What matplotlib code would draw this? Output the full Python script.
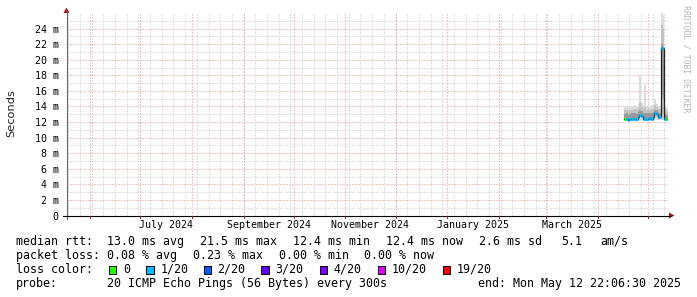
"""
Smokeping 360-day latency graph (RRDtool look) rebuilt with matplotlib.
"""
import numpy as np
import pandas as pd
import matplotlib
matplotlib.use('Agg')
import matplotlib.pyplot as plt
from matplotlib.patches import Polygon, Rectangle
from matplotlib.lines import Line2D

W, H = 697, 297
MONO = 'DejaVu Sans Mono'

END = pd.Timestamp('2025-05-12 22:06:30')
START = END - pd.Timedelta(days=360)

# daily consolidated values, Apr 17 .. May 12 2025 (ms)
days = pd.date_range('2025-04-17', '2025-05-12', freq='D')
median_ms = [12.4, 12.4, 12.3, 12.4, 12.4, 12.5, 12.4, 12.4, 12.6, 12.9, 12.8, 12.4, 12.4,
             12.4, 12.4, 12.5, 12.4, 12.6, 13.1, 13.0, 12.7, 12.6, 21.5, 21.5, 12.4, 12.4]
loss_bin  = [0, 1, 1, 1, 1, 1, 1, 1, 1, 1, 1, 1, 1,
             1, 1, 1, 1, 1, 1, 1, 1, 1, 1, 1, 1, 0]
smoke_min = [12.1, 12.1, 12.0, 12.1, 12.1, 12.1, 12.1, 12.1, 12.2, 12.2, 12.2, 12.1, 12.1,
             12.1, 12.1, 12.1, 12.1, 12.2, 12.3, 12.3, 12.2, 12.2, 12.3, 12.3, 12.1, 12.1]
smoke_p10 = [12.2, 12.2, 12.2, 12.2, 12.2, 12.3, 12.2, 12.2, 12.4, 12.6, 12.5, 12.2, 12.2,
             12.2, 12.2, 12.3, 12.2, 12.4, 12.8, 12.7, 12.4, 12.4, 13.0, 13.0, 12.2, 12.2]
smoke_p25 = [12.3, 12.3, 12.2, 12.3, 12.3, 12.4, 12.3, 12.3, 12.5, 12.8, 12.7, 12.3, 12.3,
             12.3, 12.3, 12.4, 12.3, 12.5, 13.0, 12.9, 12.6, 12.5, 15.5, 15.0, 12.3, 12.3]
smoke_p75 = [13.0, 13.1, 12.9, 13.0, 13.1, 13.1, 13.2, 13.0, 13.3, 13.6, 13.4, 13.2, 13.2,
             13.1, 13.2, 13.1, 13.2, 13.3, 13.6, 13.5, 13.3, 13.2, 22.0, 21.5, 13.0, 12.9]
smoke_p90 = [13.5, 13.6, 13.4, 13.5, 13.6, 13.6, 13.7, 13.5, 13.8, 14.4, 13.9, 13.7, 13.9,
             13.6, 13.8, 13.6, 13.7, 13.7, 14.2, 13.9, 13.7, 13.7, 24.5, 24.0, 13.5, 13.4]
smoke_max = [13.9, 14.0, 13.8, 14.0, 14.1, 14.0, 14.2, 14.0, 14.3, 18.1, 14.4, 14.2, 16.7,
             14.1, 14.5, 14.0, 14.2, 14.1, 15.0, 14.3, 14.0, 14.1, 26.0, 25.8, 14.0, 13.8]

loss_labels = ['0', '1/20', '2/20', '3/20', '4/20', '10/20', '19/20']
loss_colors = ['#26ff00', '#00b8ff', '#0059ff', '#5e00ff', '#7e00ff', '#dd00ff', '#ff0000']

y_ticks = [0, 2, 4, 6, 8, 10, 12, 14, 16, 18, 20, 22, 24]
month_labels = ['July 2024', 'September 2024', 'November 2024', 'January 2025', 'March 2025']

legend_rows = [
    (245, [(16, 'median rtt:'), (107, '13.0 ms avg'), (200, '21.5 ms max'), (293, '12.4 ms min'),
           (386, '12.4 ms now'), (479, '2.6 ms sd'), (561, '5.1'), (600, 'am/s')]),
    (259, [(16, 'packet loss:'), (107, '0.08 % avg'), (193, '0.23 % max'), (279, '0.00 % min'),
           (364, '0.00 % now')]),
    (287, [(16, 'probe:'), (107, '20 ICMP Echo Pings (56 Bytes) every 300s'),
           (478, 'end: Mon May 12 22:06:30 2025')]),
]
box_x = [108.5, 146, 203.5, 261, 319.5, 377.5, 442.5]
lab_x = [123, 160.5, 217.5, 275.5, 333.5, 391.5, 456.5]


def fx(x): return x / W
def fy(y): return 1 - y / H


fig = plt.figure(figsize=(W / 100, H / 100), dpi=100)
fig.patch.set_facecolor('white')
ax_l, ax_r, ax_t, ax_b = 66.5, 667.5, 13, 215.5
ax = fig.add_axes([fx(ax_l), fy(ax_b), (ax_r - ax_l) / W, (ax_b - ax_t) / H])
ax.set_xlim(START, END)
ax.set_ylim(0, 26.0)
for s in ax.spines.values():
    s.set_visible(False)

grid_kw = dict(lw=0.72, ls=(0, (1, 2)), dash_capstyle='butt')
# grid: weekly (sunday) minor, monthly major, 1 ms minor / 2 ms major
for d in pd.date_range(START.normalize(), END, freq='W-SUN'):
    ax.axvline(d, color='#c4c4c4', zorder=1, **grid_kw)
for v in range(1, 26):
    ax.axhline(v, color='#eb8c8c' if v % 2 == 0 else '#c4c4c4', zorder=1, **grid_kw)
month_starts = pd.date_range(START.normalize(), END, freq='MS')
for d in month_starts:
    ax.axvline(d, color='#eb8c8c', zorder=1.5, **grid_kw)

# smoke
edges = list(days) + [END]
def ext(a): return list(a) + [a[-1]]
ax.fill_between(edges, ext(smoke_min), ext(smoke_max), step='post', color='#dcdcdc', lw=0, zorder=2)
ax.fill_between(edges, ext(smoke_p10), ext(smoke_p90), step='post', color='#c2c2c2', lw=0, zorder=2)
ax.fill_between(edges, ext(smoke_p25), ext(smoke_p75), step='post', color='#9a9a9a', lw=0, zorder=2)

# median: thin dark step line + loss-coloured segments
ax.step(edges, ext(median_ms), where='post', color='#202020', lw=0.9, zorder=3)
ax.hlines(median_ms, edges[:-1], edges[1:], colors=[loss_colors[i] for i in loss_bin],
          lw=2.2, zorder=4)

# ticks
ax.set_yticks(y_ticks, [('%d m' % v) if v else '0' for v in y_ticks])
mids = [a + (b - a) / 2 for a, b in zip(month_starts[:-1], month_starts[1:])]
lab_pos = [m for m in mids if m.strftime('%B %Y') in month_labels]
ax.set_xticks(lab_pos, [m.strftime('%B %Y') for m in lab_pos])
ax.tick_params(axis='both', length=0, labelsize=7.2, labelcolor='black')
ax.tick_params(axis='y', pad=5.5)
ax.tick_params(axis='x', pad=3.2)
for t in ax.get_xticklabels() + ax.get_yticklabels():
    t.set_family(MONO)

# axis lines and arrows
fig.add_artist(Line2D([fx(66.5), fx(66.5)], [fy(219), fy(12)], color='#666666', lw=0.8))
fig.add_artist(Line2D([fx(62.5), fx(670)], [fy(215.5), fy(215.5)], color='black', lw=0.8))
arrow_c = '#a01818'
fig.add_artist(Polygon([(fx(63.5), fy(13)), (fx(69.5), fy(13)), (fx(66.5), fy(7.5))],
                       closed=True, transform=fig.transFigure, fc=arrow_c, ec='none'))
fig.add_artist(Polygon([(fx(669), fy(212.5)), (fx(669), fy(218.5)), (fx(674.5), fy(215.5))],
                       closed=True, transform=fig.transFigure, fc=arrow_c, ec='none'))
for d in month_starts:
    xp = ax.transData.transform((matplotlib.dates.date2num(d), 0))[0]
    xpx = xp / fig.dpi * 100
    fig.add_artist(Line2D([xpx / W, xpx / W], [fy(215.5), fy(218)], color='#a01818', lw=0.7))

# labels
fig.text(fx(11), fy(113.5), 'Seconds', rotation=90, ha='center', va='center',
         fontsize=8.2, family='DejaVu Sans', color='#222222')
fig.text(fx(686), fy(5), 'RRDTOOL / TOBI OETIKER', rotation=270, ha='center', va='top',
         fontsize=5.9, family=MONO, color='#b4b4b4')

for yb, parts in legend_rows:
    for x, s in parts:
        fig.text(fx(x), fy(yb), s, fontsize=8.4, family=MONO, va='baseline', ha='left')
fig.text(fx(16), fy(273), 'loss color:', fontsize=8.4, family=MONO, va='baseline', ha='left')
for bx, lx, lab, col in zip(box_x, lab_x, loss_labels, loss_colors):
    fig.add_artist(Rectangle((fx(bx), fy(273.5)), 7.5 / W, 7.5 / H, transform=fig.transFigure,
                             fc=col, ec='black', lw=0.7))
    fig.text(fx(lx), fy(273), lab, fontsize=8.4, family=MONO, va='baseline', ha='left')

fig.savefig('out.png', dpi=100)
